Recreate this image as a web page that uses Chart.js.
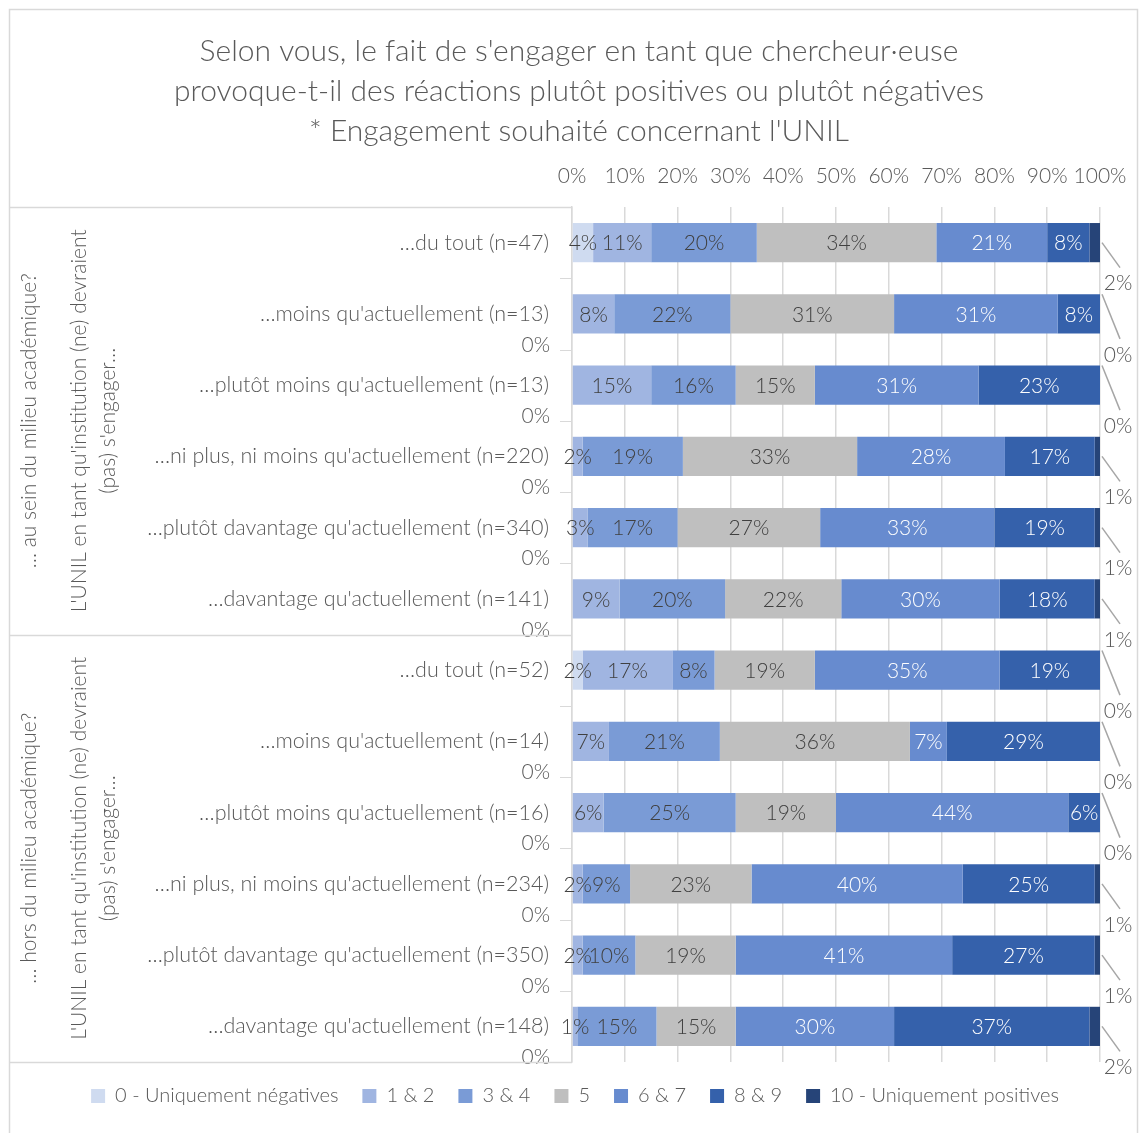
<!DOCTYPE html>
<html lang="fr">
<head>
<meta charset="utf-8">
<title>Engagement souhaité concernant l'UNIL</title>
<script src="https://cdn.jsdelivr.net/npm/chart.js@4.4.1/dist/chart.umd.min.js"></script>
<style>
  html, body { margin: 0; padding: 0; background: #fff; }
  #wrap { width: 1139px; height: 1133px; }
</style>
</head>
<body>
<div id="wrap"><canvas id="engagementChart" width="1139" height="1133"></canvas></div>
<script>
// Données (en %)
const categories = [
    '…du tout (n=47)',
    "…moins qu'actuellement (n=13)",
    "…plutôt moins qu'actuellement (n=13)",
    "…ni plus, ni moins qu'actuellement (n=220)",
    "…plutôt davantage qu'actuellement (n=340)",
    "…davantage qu'actuellement (n=141)",
    '…du tout (n=52)',
    "…moins qu'actuellement (n=14)",
    "…plutôt moins qu'actuellement (n=16)",
    "…ni plus, ni moins qu'actuellement (n=234)",
    "…plutôt davantage qu'actuellement (n=350)",
    "…davantage qu'actuellement (n=148)"
];
const seriesNames = ['0 - Uniquement négatives', '1 & 2', '3 & 4', '5', '6 & 7', '8 & 9', '10 - Uniquement positives'];
const s0  = [4, 0, 0, 0, 0, 0, 2, 0, 0, 0, 0, 0];
const s12 = [11, 8, 15, 2, 3, 9, 17, 7, 6, 2, 2, 1];
const s34 = [20, 22, 16, 19, 17, 20, 8, 21, 25, 9, 10, 15];
const s5  = [34, 31, 15, 33, 27, 22, 19, 36, 19, 23, 19, 15];
const s67 = [21, 31, 31, 28, 33, 30, 35, 7, 44, 40, 41, 30];
const s89 = [8, 8, 23, 17, 19, 18, 19, 29, 6, 25, 27, 37];
const s10 = [2, 0, 0, 1, 1, 1, 0, 0, 0, 1, 1, 2];
const xTicks = [0, 10, 20, 30, 40, 50, 60, 70, 80, 90, 100];
const groupLabels = [
    ['… au sein du milieu académique?', "L'UNIL en tant qu'institution (ne) devraient", "(pas) s'engager…"],
    ['… hors du milieu académique?', "L'UNIL en tant qu'institution (ne) devraient", "(pas) s'engager…"]
];
const titleLines = [
    "Selon vous, le fait de s'engager en tant que chercheur·euse",
    'provoque-t-il des réactions plutôt positives ou plutôt négatives',
    "* Engagement souhaité concernant l'UNIL"
];

const colors = ['#cfdbf0', '#a0b5e1', '#7a9bd6', '#bfbfbf', '#678bcf', '#3561ab', '#264478'];
const labelColors = ['#404040', '#404040', '#404040', '#404040', '#ffffff', '#ffffff', '#595959'];
const FONT = 'Lato';
const GREY = '#595959';
const LINE = '#d9d9d9';

// titre, cadre, libellés de groupes
const decor = {
    id: 'decor',
    beforeDraw(chart) {
        const c = chart.ctx;
        c.save();
        c.fillStyle = '#fff';
        c.fillRect(0, 0, chart.width, chart.height);
        c.restore();
    },
    afterDraw(chart) {
        const c = chart.ctx;
        const area = chart.chartArea;
        const n = categories.length;
        const step = (area.bottom - area.top) / n;
        c.save();
        c.strokeStyle = LINE;
        c.lineWidth = 1.5;
        c.strokeRect(9.5, 9.5, 1128, 1130);

        // lignes de séparation des groupes
        const half = n / 2;
        [area.top, area.top + step * half, area.bottom].forEach(yy => {
            c.beginPath();
            c.moveTo(9, Math.round(yy) + 0.5);
            c.lineTo(area.left, Math.round(yy) + 0.5);
            c.stroke();
        });
        c.lineWidth = 1;
        for (let i = 1; i < n; i++) {
            const yy = Math.round(area.top + step * i) + 0.5;
            c.beginPath();
            c.moveTo(area.left - 12, yy);
            c.lineTo(area.left, yy);
            c.stroke();
        }

        // libellés de groupes (verticaux)
        c.fillStyle = GREY;
        c.font = '300 21px ' + FONT;
        c.textAlign = 'center';
        c.textBaseline = 'middle';
        const cols = [29, 79, 108];
        groupLabels.forEach((lines, g) => {
            const cy = area.top + step * half * (g + 0.5);
            lines.forEach((t, k) => {
                c.save();
                c.translate(cols[k], cy);
                c.rotate(-Math.PI / 2);
                c.fillText(t, 0, 0);
                c.restore();
            });
        });

        // titre
        c.font = '300 30px ' + FONT;
        titleLines.forEach((t, k) => c.fillText(t, 579, 51 + k * 40));
        c.restore();
    }
};

// étiquettes de données
const dataLabels = {
    id: 'dataLabels',
    afterDatasetsDraw(chart) {
        const c = chart.ctx;
        const area = chart.chartArea;
        const last = chart.data.datasets.length - 1;
        c.save();
        c.font = '300 21px ' + FONT;
        c.textBaseline = 'middle';
        chart.data.datasets.forEach((ds, d) => {
            const meta = chart.getDatasetMeta(d);
            meta.data.forEach((el, i) => {
                const v = ds.data[i];
                const txt = v + '%';
                if (d === last) {
                    // dernière série : étiquette à l'extérieur avec trait de rappel
                    const y0 = v === 0 ? el.y - el.height / 2 : el.y;
                    c.strokeStyle = '#a6a6a6';
                    c.lineWidth = 1.5;
                    c.beginPath();
                    c.moveTo(el.x + 2, y0);
                    c.lineTo(el.x + 20, el.y + 25);
                    c.stroke();
                    c.fillStyle = GREY;
                    c.textAlign = 'center';
                    c.fillText(txt, el.x + 18, el.y + 41);
                    return;
                }
                if (v === 0) {
                    if (d === 0) {
                        c.fillStyle = GREY;
                        c.textAlign = 'right';
                        c.fillText(txt, area.left - 22, el.y + 31);
                    }
                    return;
                }
                c.fillStyle = labelColors[d];
                c.textAlign = 'center';
                c.fillText(txt, (el.x + el.base) / 2, el.y + 1);
            });
        });
        c.restore();
    }
};

const seriesValues = [s0, s12, s34, s5, s67, s89, s10];
const datasets = seriesNames.map((name, k) => ({
    label: name,
    data: seriesValues[k],
    backgroundColor: colors[k],
    borderWidth: 0,
    categoryPercentage: 1,
    barPercentage: 0.55
}));

new Chart(document.getElementById('engagementChart'), {
    type: 'bar',
    data: { labels: categories, datasets: datasets },
    options: {
        indexAxis: 'y',
        responsive: false,
        animation: false,
        layout: { padding: { top: 150, left: 50, right: 39, bottom: 17 } },
        scales: {
            x: {
                type: 'linear',
                position: 'top',
                stacked: true,
                min: 0,
                max: 100,
                afterBuildTicks: s => { s.ticks = xTicks.map(v => ({ value: v })); },
                afterFit: s => {
                    s.height = 57;
                    s.paddingLeft = 0;
                    s.paddingRight = 0;
                },
                ticks: {
                    color: GREY,
                    font: { family: FONT, size: 21, weight: '300' },
                    padding: 18,
                    maxRotation: 0,
                    autoSkip: false,
                    callback: v => v + '%'
                },
                grid: { color: LINE, lineWidth: 1.5, drawTicks: false },
                border: { display: false }
            },
            y: {
                stacked: true,
                afterFit: s => { s.width = 522; },
                ticks: {
                    color: GREY,
                    font: { family: FONT, size: 21.5, weight: '300' },
                    padding: 23
                },
                grid: { display: false, drawTicks: false },
                border: { display: true, color: LINE, width: 1.5 }
            }
        },
        plugins: {
            legend: {
                position: 'bottom',
                labels: {
                    boxWidth: 14,
                    boxHeight: 14,
                    padding: 24,
                    color: GREY,
                    font: { family: FONT, size: 20, weight: '300' }
                }
            },
            tooltip: { enabled: false }
        }
    },
    plugins: [decor, dataLabels]
});
</script>
</body>
</html>
